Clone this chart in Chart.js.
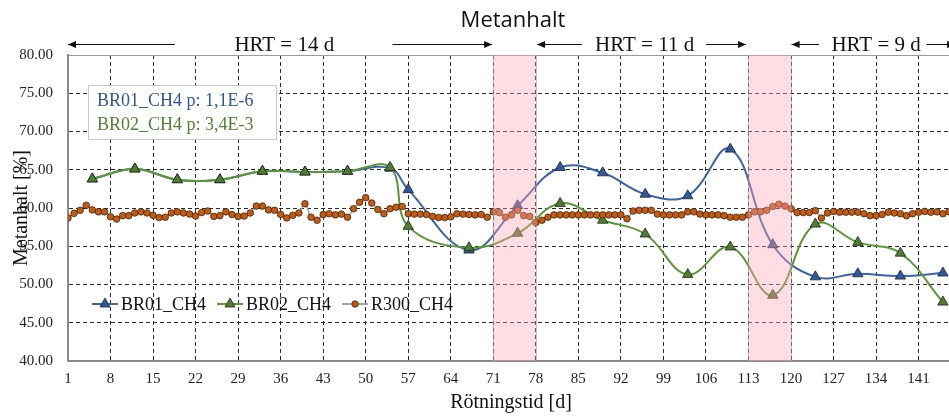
<!DOCTYPE html>
<html>
<head>
<meta charset="utf-8">
<script src="https://cdn.jsdelivr.net/npm/chart.js@4.4.1/dist/chart.umd.min.js"></script>
<style>
  html, body { margin: 0; padding: 0; background: #fff; }
  #wrap { width: 949px; height: 416px; }
</style>
</head>
<body>
<div id="wrap"><canvas id="metan"></canvas></div>
<script>
// Metanhalt data

const xTicks = [1, 8, 15, 22, 29, 36, 43, 50, 57, 64, 71, 78, 85, 92, 99, 106, 113, 120, 127, 134, 141];

const brDays = [5, 12, 19, 26, 33, 40, 47, 54, 57, 67, 75, 82, 89, 96, 103, 110, 117, 124, 131, 138, 145];
const br01 = [63.8, 65.1, 63.7, 63.7, 64.8, 64.7, 64.8, 65.2, 62.4, 54.5, 60.3, 65.3, 64.6, 61.8, 61.6, 67.7, 55.2, 51.0, 51.4, 51.1, 51.5];
const br02 = [63.8, 65.1, 63.7, 63.7, 64.8, 64.7, 64.8, 65.3, 57.6, 54.8, 56.7, 60.6, 58.4, 56.6, 51.3, 54.9, 48.6, 57.9, 55.5, 54.1, 47.7];

// R300 has a value for every day 1..146
const r300 = [
  58.7, 59.3, 59.7, 60.35, 59.75, 59.5, 59.5, 58.85, 58.55, 59.0,
  59.0, 59.35, 59.5, 59.35, 59.05, 58.75, 58.8, 59.35, 59.5, 59.35,
  59.2, 58.95, 59.4, 59.6, 58.9, 59.0, 59.5, 59.15, 58.9, 58.95,
  59.35, 60.25, 60.25, 59.75, 59.7, 59.15, 58.7, 59.05, 59.35, 60.55,
  58.8, 58.4, 59.15, 59.25, 59.1, 59.2, 58.8, 59.9, 60.75, 61.35,
  60.65, 59.8, 59.25, 59.9, 60.1, 60.2, 59.25, 59.2, 59.2, 59.15,
  58.9, 58.75, 58.75, 58.85, 59.25, 59.2, 59.15, 59.1, 59.15, 58.8,
  59.5, 59.4, 58.8, 59.1, 59.7, 59.0, 58.9, 58.1, 58.4, 58.8,
  59.1, 59.1, 59.1, 59.1, 59.1, 59.1, 59.1, 59.1, 59.1, 59.1,
  59.1, 59.1, 58.6, 59.6, 59.7, 59.7, 59.7, 59.2, 59.1, 59.1,
  59.1, 59.1, 59.5, 59.5, 59.2, 59.1, 59.1, 59.1, 59.0, 58.8,
  58.8, 58.8, 59.1, 59.5, 59.5, 59.7, 60.2, 60.5, 60.25, 59.9,
  59.4, 59.4, 59.4, 59.65, 58.7, 59.35, 59.55, 59.45, 59.45, 59.45,
  59.45, 59.25, 59.0, 59.0, 59.15, 59.45, 59.35, 59.25, 59.0, 59.25,
  59.45, 59.55, 59.45, 59.5, 59.25, 59.5
];

const pinkBands = [[71, 78], [113, 120]];

// HRT periods: text centre and arrow extents, in days
const hrtLabels = [
  { text: 'HRT = 14 d', at: 36.6, left: [1, 18.6], right: [54.4, 70.8] },
  { text: 'HRT = 11 d', at: 95.9, left: [78.2, 85.6], right: [106, 112.6] },
  { text: 'HRT = 9 d', at: 134, left: [120.1, 124.6], right: [142.3, 147] }
];

const SERIF = '"Liberation Serif", "Times New Roman", serif';

const blueLine = '#3B64A8', blueMark = '#2F5AA0';
const greenLine = '#5B9637', greenMark = '#4F7F2E';
const greyLine = '#A5A5A5', orangeMark = '#C55A11';

function arrow(ctx, x0, x1, y, headAt) {
  ctx.beginPath();
  ctx.moveTo(x0, y);
  ctx.lineTo(x1, y);
  ctx.stroke();
  const hx = headAt === 'left' ? x0 : x1;
  const d = headAt === 'left' ? 1 : -1;
  ctx.beginPath();
  ctx.moveTo(hx, y);
  ctx.lineTo(hx + d * 8, y - 3.5);
  ctx.lineTo(hx + d * 8, y + 3.5);
  ctx.closePath();
  ctx.fill();
}

const overlay = {
  id: 'overlay',
  afterDatasetsDraw(chart) {
    const { ctx, chartArea: a, scales: { x } } = chart;
    ctx.save();
    pinkBands.forEach(b => {
      const x0 = x.getPixelForValue(b[0]);
      const x1 = x.getPixelForValue(b[1]);
      ctx.fillStyle = 'rgba(255,165,178,0.38)';
      ctx.fillRect(x0, a.top, x1 - x0, a.bottom - a.top);
      ctx.strokeStyle = 'rgba(150,150,150,0.55)';
      ctx.lineWidth = 1;
      ctx.beginPath();
      ctx.moveTo(Math.round(x0) + 0.5, a.top);
      ctx.lineTo(Math.round(x0) + 0.5, a.bottom);
      ctx.moveTo(Math.round(x1) + 0.5, a.top);
      ctx.lineTo(Math.round(x1) + 0.5, a.bottom);
      ctx.stroke();
    });
    ctx.restore();
  },
  afterDraw(chart) {
    const { ctx, chartArea: a, scales: { x } } = chart;
    ctx.save();

    // main title
    ctx.fillStyle = '#111';
    ctx.font = '22px "Open Sans", sans-serif';
    ctx.textAlign = 'center';
    ctx.textBaseline = 'middle';
    ctx.fillText('Metanhalt', 513, 21);

    // HRT annotations
    ctx.font = '21px ' + SERIF;
    ctx.strokeStyle = '#111';
    ctx.lineWidth = 1;
    hrtLabels.forEach(h => {
      ctx.fillText(h.text, x.getPixelForValue(h.at), 45);
      arrow(ctx, x.getPixelForValue(h.left[0]), x.getPixelForValue(h.left[1]), 44.5, 'left');
      arrow(ctx, x.getPixelForValue(h.right[0]), x.getPixelForValue(h.right[1]), 44.5, 'right');
    });

    // axis titles
    ctx.font = '20px ' + SERIF;
    ctx.fillText('Rötningstid [d]', 511, 403);
    ctx.save();
    ctx.translate(22, (a.top + a.bottom) / 2);
    ctx.rotate(-Math.PI / 2);
    ctx.fillText('Metanhalt [%]', 0, 0);
    ctx.restore();

    // p-value box
    ctx.fillStyle = '#fff';
    ctx.fillRect(88.5, 85.5, 188, 54);
    ctx.strokeStyle = '#c9c9c9';
    ctx.strokeRect(88.5, 85.5, 188, 54);
    ctx.font = '18px ' + SERIF;
    ctx.textAlign = 'left';
    ctx.fillStyle = '#2F5597';
    ctx.fillText('BR01_CH4 p: 1,1E-6', 97, 101);
    ctx.fillStyle = '#548235';
    ctx.fillText('BR02_CH4 p: 3,4E-3', 97, 125);

    // legend inside the plot
    const items = [
      { label: 'BR01_CH4', line: blueLine, mark: blueMark, shape: 'triangle' },
      { label: 'BR02_CH4', line: greenLine, mark: greenMark, shape: 'triangle' },
      { label: 'R300_CH4', line: greyLine, mark: orangeMark, shape: 'circle' }
    ];
    let lx = 92;
    const ly = 304;
    items.forEach(it => {
      ctx.strokeStyle = it.line;
      ctx.lineWidth = 2;
      ctx.beginPath();
      ctx.moveTo(lx, ly);
      ctx.lineTo(lx + 26, ly);
      ctx.stroke();
      ctx.fillStyle = it.mark;
      ctx.strokeStyle = '#222';
      ctx.lineWidth = 0.8;
      ctx.beginPath();
      if (it.shape === 'triangle') {
        ctx.moveTo(lx + 13, ly - 6);
        ctx.lineTo(lx + 18, ly + 3);
        ctx.lineTo(lx + 8, ly + 3);
        ctx.closePath();
      } else {
        ctx.arc(lx + 13, ly, 3.2, 0, Math.PI * 2);
      }
      ctx.fill();
      ctx.stroke();
      ctx.fillStyle = '#111';
      ctx.fillText(it.label, lx + 29, ly + 1);
      lx += 29 + ctx.measureText(it.label).width + 11;
    });

    ctx.restore();
  }
};

const ctxMetan = document.getElementById('metan').getContext('2d');
const metanChart = new Chart(ctxMetan, {
  type: 'line',
  data: {
    datasets: [
      {
        label: 'R300_CH4',
        data: r300.map((v, i) => ({ x: i + 1, y: v })),
        borderColor: greyLine,
        borderWidth: 1.5,
        tension: 0.4,
        pointRadius: 3.3,
        pointBackgroundColor: orangeMark,
        pointBorderColor: '#3b2412',
        pointBorderWidth: 0.8
      },
      {
        label: 'BR02_CH4',
        data: brDays.map((d, i) => ({ x: d, y: br02[i] })),
        borderColor: greenLine,
        borderWidth: 2,
        tension: 0.4,
        pointStyle: 'triangle',
        pointRadius: 6,
        pointBackgroundColor: greenMark,
        pointBorderColor: '#1f1f1f',
        pointBorderWidth: 0.8
      },
      {
        label: 'BR01_CH4',
        data: brDays.map((d, i) => ({ x: d, y: br01[i] })),
        borderColor: blueLine,
        borderWidth: 2,
        tension: 0.4,
        pointStyle: 'triangle',
        pointRadius: 6,
        pointBackgroundColor: blueMark,
        pointBorderColor: '#1f1f1f',
        pointBorderWidth: 0.8
      }
    ]
  },
  options: {
    responsive: true,
    maintainAspectRatio: false,
    animation: false,
    layout: { autoPadding: false, padding: { top: 55, right: 0, left: 0, bottom: 0 } },
    plugins: {
      legend: { display: false },
      tooltip: { enabled: false }
    },
    scales: {
      x: {
        type: 'linear',
        min: 1,
        max: 146,
        afterBuildTicks: s => { s.ticks = xTicks.map(v => ({ value: v })); },
        afterFit: s => { s.height = 55; s.paddingLeft = 0; s.paddingRight = 0; },
        ticks: {
          autoSkip: false,
          maxRotation: 0,
          padding: 9,
          color: '#222',
          font: { family: SERIF, size: 15 },
          callback: v => String(v)
        },
        grid: { color: '#2a2a2a', lineWidth: 1, drawTicks: false },
        border: { display: true, color: '#8a8a8a', width: 2, dash: c => (c.tick ? [4, 3] : []) }
      },
      y: {
        min: 40,
        max: 80,
        afterFit: s => { s.width = 68; s.paddingTop = 0; s.paddingBottom = 0; },
        ticks: {
          stepSize: 5,
          padding: 15,
          color: '#222',
          font: { family: SERIF, size: 15 },
          callback: v => v.toFixed(2)
        },
        grid: {
          color: c => (c.tick && c.tick.value === 80 ? '#9a9a9a' : '#2a2a2a'),
          lineWidth: 1,
          drawTicks: false
        },
        border: {
          display: true, color: '#8a8a8a', width: 2,
          dash: c => (c.tick && c.tick.value !== 80 ? [4, 3] : [])
        }
      }
    }
  },
  plugins: [overlay]
});
</script>
</body>
</html>
